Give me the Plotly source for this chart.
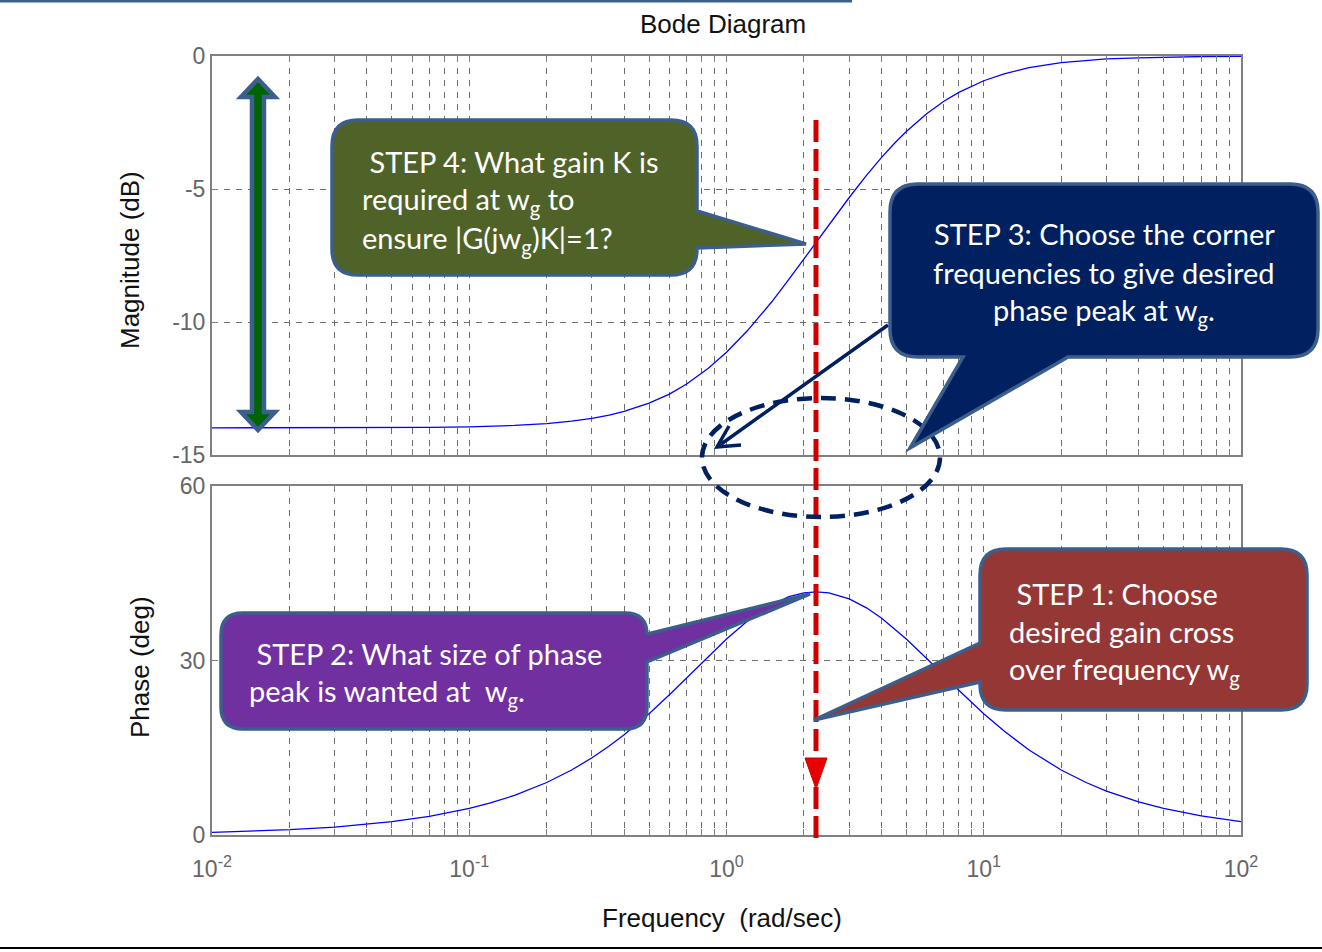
import plotly.graph_objects as go

# ---------------- data ----------------
freq = [0.01, 0.015, 0.02, 0.03, 0.04, 0.05, 0.07, 0.1, 0.12, 0.15, 0.2, 0.25, 0.3, 0.35,
        0.4, 0.5, 0.6, 0.7, 0.85, 1.0, 1.2, 1.5, 1.75, 2.0, 2.236, 2.5, 3.0, 3.5, 4.0, 4.5,
        5.0, 6.0, 7.0, 8.0, 10.0, 12.0, 15.0, 20.0, 25.0, 30.0, 40.0, 50.0, 70.0, 100.0]
mag_db = [-13.98, -13.98, -13.98, -13.98, -13.97, -13.97, -13.96, -13.94, -13.92, -13.89,
          -13.82, -13.73, -13.62, -13.50, -13.36, -13.05, -12.71, -12.33, -11.74, -11.14,
          -10.35, -9.24, -8.39, -7.63, -6.99, -6.35, -5.32, -4.49, -3.82, -3.28, -2.84,
          -2.17, -1.70, -1.37, -0.93, -0.67, -0.44, -0.25, -0.16, -0.11, -0.07, -0.04,
          -0.02, -0.01]
phase_deg = [0.46, 0.69, 0.92, 1.37, 1.83, 2.29, 3.20, 4.57, 5.47, 6.81, 9.02, 11.17, 13.27,
             15.29, 17.23, 20.85, 24.12, 27.02, 30.72, 33.69, 36.70, 39.61, 40.97, 41.63,
             41.81, 41.63, 40.60, 39.06, 37.30, 35.48, 33.69, 30.34, 27.41, 24.88, 20.85,
             17.86, 14.62, 11.17, 9.02, 7.55, 5.69, 4.57, 3.27, 2.29]

mag_ticks = [-15, -10, -5, 0]
mag_tick_text = ["-15", "-10", "-5", "0"]
phase_ticks = [0, 30, 60]
phase_tick_text = ["0", "30", "60"]
decades = [-2, -1, 0, 1, 2]
freq_tick_vals = [m * 10.0 ** d for d in decades[:-1] for m in range(1, 10)] + [10.0 ** decades[-1]]
freq_tick_text = [f"10<sup>{d}</sup>" if m == 1 else "" for d in decades[:-1] for m in range(1, 10)] + [f"10<sup>{decades[-1]}</sup>"]

step_texts = {
    "s4": [" STEP 4: What gain K is", "required at w<sub>g</sub> to", "ensure |G(jw<sub>g</sub>)K|=1?"],
    "s3": ["STEP 3: Choose the corner", "frequencies to give desired", "phase peak at w<sub>g</sub>."],
    "s2": [" STEP 2: What size of phase", "peak is wanted at&nbsp; w<sub>g</sub>."],
    "s1": [" STEP 1: Choose", "desired gain cross", "over frequency w<sub>g</sub>"],
}

# ---------------- layout geometry (pixels) ----------------
W, H = 1322, 952
L, R, T, B = 212, 1241, 56, 835
MAG_BOTTOM, PH_TOP = 455, 486


def px(x):
    return (x - L) / (R - L)


def py(y):
    return (B - y) / (B - T)


def P(x, y):
    return f"{px(x):.5f},{py(y):.5f}"


def poly(points):
    return "M" + " L".join(P(x, y) for x, y in points) + " Z"


def callout_path(box, r, edge, a, b, tip):
    x0, y0, x1, y1 = box
    s = f"M{P(x0 + r, y0)} L{P(x1 - r, y0)} Q{P(x1, y0)} {P(x1, y0 + r)}"
    if edge == "right":
        s += f" L{P(x1, a)} L{P(*tip)} L{P(x1, b)}"
    s += f" L{P(x1, y1 - r)} Q{P(x1, y1)} {P(x1 - r, y1)}"
    if edge == "bottom":
        s += f" L{P(b, y1)} L{P(*tip)} L{P(a, y1)}"
    s += f" L{P(x0 + r, y1)} Q{P(x0, y1)} {P(x0, y1 - r)}"
    if edge == "left":
        s += f" L{P(x0, b)} L{P(*tip)} L{P(x0, a)}"
    s += f" L{P(x0, y0 + r)} Q{P(x0, y0)} {P(x0 + r, y0)} Z"
    return s


fig = go.Figure()
fig.add_trace(go.Scatter(x=freq, y=mag_db, mode="lines", line=dict(color="#0000ff", width=1.3),
                         xaxis="x2", yaxis="y2", hoverinfo="skip", showlegend=False))
fig.add_trace(go.Scatter(x=freq, y=phase_deg, mode="lines", line=dict(color="#0000ff", width=1.3),
                         xaxis="x", yaxis="y", hoverinfo="skip", showlegend=False))

GRID = "#6f6f6f"
tickfont = dict(family="Liberation Sans, Arial, sans-serif", size=23, color="#666666")
common_x = dict(type="log", range=[-2, 2], tickmode="array", tickvals=freq_tick_vals,
                showgrid=True, gridcolor=GRID, griddash="6px,6px", gridwidth=1,
                showline=True, linecolor="#808080", linewidth=2, mirror="allticks",
                ticks="inside", ticklen=6, tickcolor="#808080", zeroline=False, tickfont=tickfont)
common_y = dict(showgrid=True, gridcolor=GRID, griddash="6px,6px", gridwidth=1,
                showline=True, linecolor="#808080", linewidth=2, mirror="allticks",
                ticks="inside", ticklen=6, tickcolor="#808080", zeroline=False, tickfont=tickfont,
                tickmode="array")

fig.update_layout(
    width=W, height=H,
    margin=dict(l=L, r=W - R, t=T, b=H - B, pad=0),
    paper_bgcolor="white", plot_bgcolor="white",
    xaxis=dict(common_x, anchor="y", domain=[0, 1], ticktext=freq_tick_text, ticklabelstandoff=12),
    yaxis=dict(common_y, anchor="x", domain=[0, py(PH_TOP)], range=[0, 60],
               tickvals=phase_ticks, ticktext=phase_tick_text),
    xaxis2=dict(common_x, anchor="y2", domain=[0, 1], ticktext=[""] * len(freq_tick_vals), showticklabels=False),
    yaxis2=dict(common_y, anchor="x2", domain=[py(MAG_BOTTOM), 1], range=[-15, 0],
                tickvals=mag_ticks, ticktext=mag_tick_text),
    showlegend=False,
)

shapes = []
# slide decorations
shapes.append(dict(type="line", xref="paper", yref="paper", x0=px(0), x1=px(852), y0=py(1), y1=py(1),
                   line=dict(color="#3b5e8c", width=3)))
shapes.append(dict(type="line", xref="paper", yref="paper", x0=px(0), x1=px(W), y0=py(948), y1=py(948),
                   line=dict(color="#000000", width=2)))

# red dashed w_g line and arrowhead
shapes.append(dict(type="line", xref="paper", yref="paper", x0=px(816), x1=px(816), y0=py(120), y1=py(842),
                   line=dict(color="#cc0000", width=5, dash="22px,7px"), layer="above"))
shapes.append(dict(type="path", xref="paper", yref="paper", path=poly([(805, 758), (827, 758), (816, 789)]),
                   fillcolor="#e60000", line=dict(color="#cc0000", width=1), layer="above"))

# green double arrow
shapes.append(dict(type="path", xref="paper", yref="paper",
                   path=poly([(258, 79), (275, 97), (264, 97), (264, 412), (275, 412), (258, 430),
                              (241, 412), (252, 412), (252, 97), (241, 97)]),
                   fillcolor="#006400", line=dict(color="#3b5e8c", width=4.5), layer="above"))

# dashed ellipse
shapes.append(dict(type="circle", xref="paper", yref="paper", x0=px(702), x1=px(940), y0=py(398), y1=py(517),
                   line=dict(color="#002060", width=4.5, dash="15px,9px"), layer="above"))

# navy arrow
shapes.append(dict(type="path", xref="paper", yref="paper",
                   path=f"M{P(888, 325)} L{P(717, 447)} M{P(741, 445)} L{P(717, 447)} L{P(729, 426)}",
                   line=dict(color="#002060", width=3.5), layer="above"))

OUT = "#3b5e8c"
shapes.append(dict(type="path", xref="paper", yref="paper",
                   path=callout_path((332, 120, 697, 275), 26, "right", 211, 248, (806, 244)),
                   fillcolor="#4f6228", line=dict(color=OUT, width=3.5), layer="above"))
shapes.append(dict(type="path", xref="paper", yref="paper",
                   path=callout_path((890, 184, 1318, 357), 28, "bottom", 963, 1068, (910, 448)),
                   fillcolor="#002060", line=dict(color=OUT, width=3.5), layer="above"))
shapes.append(dict(type="path", xref="paper", yref="paper",
                   path=callout_path((221, 613, 647, 729), 22, "right", 634, 662, (810, 594)),
                   fillcolor="#7030a0", line=dict(color=OUT, width=3.5), layer="above"))
shapes.append(dict(type="path", xref="paper", yref="paper",
                   path=callout_path((980, 549, 1307, 710), 26, "left", 643, 682, (814, 720)),
                   fillcolor="#953735", line=dict(color=OUT, width=3.5), layer="above"))
fig.update_layout(shapes=shapes)

annotations = []
lab = dict(family="Liberation Sans, Arial, sans-serif", size=26, color="#111111")
annotations.append(dict(text="Bode Diagram", x=px(723), y=py(24), xref="paper", yref="paper",
                        showarrow=False, font=lab, xanchor="center", yanchor="middle"))
annotations.append(dict(text="Frequency&nbsp; (rad/sec)", x=px(722), y=py(918), xref="paper", yref="paper",
                        showarrow=False, font=lab, xanchor="center", yanchor="middle"))
annotations.append(dict(text="Magnitude (dB)", x=px(130), y=py(260), xref="paper", yref="paper",
                        showarrow=False, font=lab, textangle=-90, xanchor="center", yanchor="middle"))
annotations.append(dict(text="Phase (deg)", x=px(140), y=py(667), xref="paper", yref="paper",
                        showarrow=False, font=lab, textangle=-90, xanchor="center", yanchor="middle"))

cfont = dict(family="Lato, Carlito, sans-serif", size=29, color="white")


def add_lines(key, xs, ys, anchor):
    for t, x, y in zip(step_texts[key], xs, ys):
        annotations.append(dict(text=t, x=px(x), y=py(y), xref="paper", yref="paper", showarrow=False,
                                font=cfont, xanchor=anchor, yanchor="middle"))


add_lines("s4", [360, 360, 360], [162, 201, 239], "left")
add_lines("s3", [1104, 1104, 1104], [233, 272, 311], "center")
add_lines("s2", [247, 247], [653, 692], "left")
add_lines("s1", [1007, 1007, 1007], [593, 631, 670], "left")

fig.update_layout(annotations=annotations)

fig.write_html("out.html", config={"displayModeBar": False},
               post_script="document.body.style.margin='0';document.body.style.padding='0';")
